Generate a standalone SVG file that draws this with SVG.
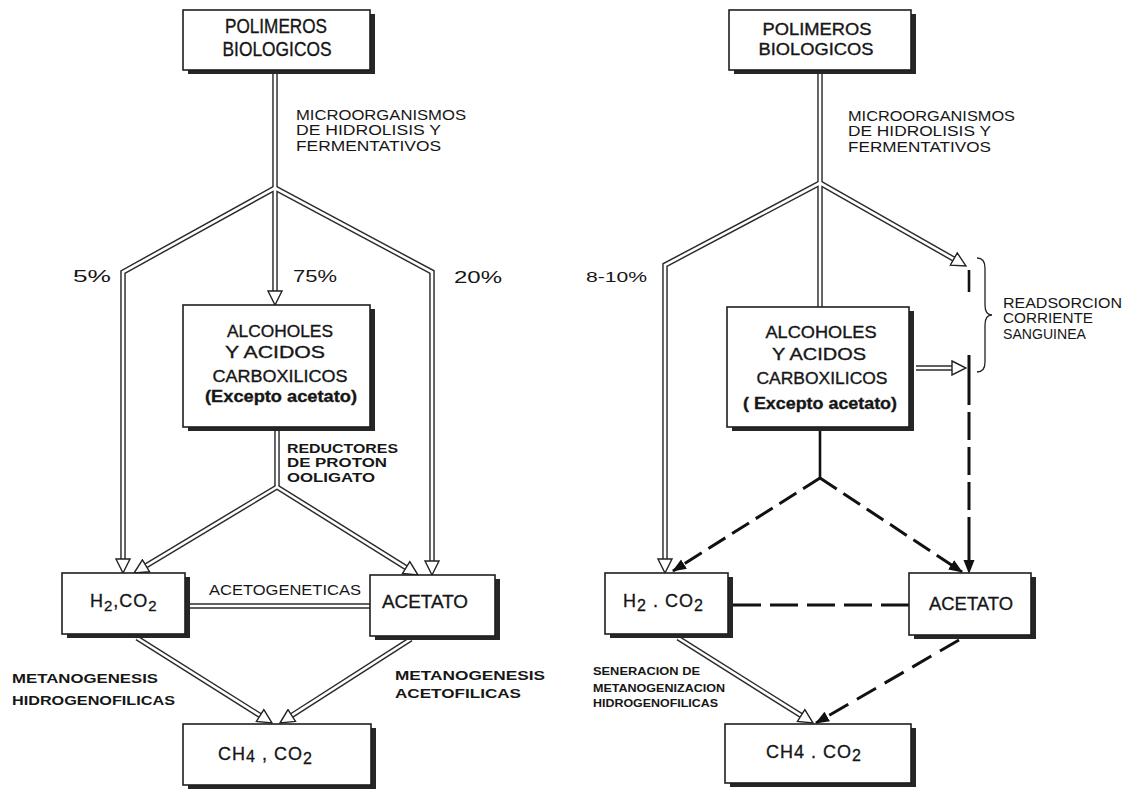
<svg xmlns="http://www.w3.org/2000/svg" width="1130" height="791" viewBox="0 0 1130 791">
<style>
.bg{fill:#fff}
.box{fill:#fff;stroke:#1e1e1e;stroke-width:1.6}
.sh{fill:#262626}
.t{font-family:"Liberation Sans",Arial,Helvetica,sans-serif;fill:#161616}
.tb{font-size:20px;stroke:#161616;stroke-width:0.35}
.tbr{font-size:17px;stroke:#161616;stroke-width:0.35}
.ta{font-size:17px;stroke:#161616;stroke-width:0.35}
.tx{font-size:18px;stroke:#161616;stroke-width:0.3}
.l{font-size:14px}
.lb{font-size:13px;font-weight:bold}
.ls{font-size:10px;font-weight:bold}
.p{font-size:16px}
.hb{fill:none;stroke:#2b2b2b;stroke-width:5.5}
.hw{fill:none;stroke:#fff;stroke-width:2.6}
.sol{fill:none;stroke:#111;stroke-width:2.6}
.dash{fill:none;stroke:#111;stroke-width:3;stroke-dasharray:20 8}
.brace{fill:none;stroke:#222;stroke-width:1.3}
</style>
<defs>
<marker id="ho" viewBox="0 0 16 16" refX="7" refY="8" markerWidth="16" markerHeight="16" markerUnits="userSpaceOnUse" orient="auto">
<path d="M1,1 L15,8 L1,15 Z" fill="#fff" stroke="#222" stroke-width="1.4"/>
</marker>
<marker id="fa" viewBox="0 0 14 12" refX="13" refY="6" markerWidth="14" markerHeight="12" markerUnits="userSpaceOnUse" orient="auto">
<path d="M0,0.5 L14,6 L0,11.5 Z" fill="#111"/>
</marker>
</defs>
<rect class="bg" x="0" y="0" width="1130" height="791"/>

<g id="connectors">
<path class="hb" d="M275,70 L275,188"/>
<path class="hb" d="M275,188 L123,272 L123,565"/>
<path class="hb" d="M275,188 L275,297"/>
<path class="hb" d="M275,188 L432,272 L432,567"/>
<path class="hb" d="M277,427 L277,487"/>
<path class="hb" d="M277,487 L140.9,568.9"/>
<path class="hb" d="M277,487 L411.2,570.8"/>
<path class="hb" d="M189,606 L370,606"/>
<path class="hb" d="M137,638 L265.2,718.7"/>
<path class="hb" d="M411,639 L286.7,718.7"/>
<path class="hb" d="M820,70 L820,183"/>
<path class="hb" d="M820,183 L665,265 L665,565"/>
<path class="hb" d="M820,183 L820,307"/>
<path class="hb" d="M820,183 L959,262"/>
<path class="hb" d="M916,368 L958,368"/>
<path class="hb" d="M678,638 L806.2,718.7"/>
<path class="hw" d="M275,70 L275,188"/>
<path class="hw" d="M275,188 L123,272 L123,565" marker-end="url(#ho)"/>
<path class="hw" d="M275,188 L275,297" marker-end="url(#ho)"/>
<path class="hw" d="M275,188 L432,272 L432,567" marker-end="url(#ho)"/>
<path class="hw" d="M277,427 L277,487"/>
<path class="hw" d="M277,487 L140.9,568.9" marker-end="url(#ho)"/>
<path class="hw" d="M277,487 L411.2,570.8" marker-end="url(#ho)"/>
<path class="hw" d="M189,606 L370,606"/>
<path class="hw" d="M137,638 L265.2,718.7" marker-end="url(#ho)"/>
<path class="hw" d="M411,639 L286.7,718.7" marker-end="url(#ho)"/>
<path class="hw" d="M820,70 L820,183"/>
<path class="hw" d="M820,183 L665,265 L665,565" marker-end="url(#ho)"/>
<path class="hw" d="M820,183 L820,307"/>
<path class="hw" d="M820,183 L959,262" marker-end="url(#ho)"/>
<path class="hw" d="M916,368 L958,368" marker-end="url(#ho)"/>
<path class="hw" d="M678,638 L806.2,718.7" marker-end="url(#ho)"/>
<path class="sol" d="M820,427 L820,478"/>
<path class="dash" d="M820,478 L673,571" marker-end="url(#fa)"/>
<path class="dash" d="M820,478 L962,572" marker-end="url(#fa)"/>
<path class="sol" d="M969,270 L969,292"/>
<path class="dash" d="M969,355 L969,573" style="stroke-dasharray:50 7 28 7 28 7 28 7" marker-end="url(#fa)"/>
<path class="dash" d="M733,605 L909,605" style="stroke-dasharray:28 9"/>
<path class="dash" d="M959,640 L816,723" style="stroke-dasharray:22 10" marker-end="url(#fa)"/>
<path class="brace" d="M977,258 Q985,258 985,268 L985,305 Q985,315 992,315 Q985,315 985,325 L985,362 Q985,372 977,372"/>
</g>

<g id="polimeros-l">
<rect class="sh" x="188" y="14" width="187" height="60"/>
<rect class="box" x="183" y="10" width="187" height="60"/>
<text class="t tb" x="276" y="33" text-anchor="middle" textLength="102" lengthAdjust="spacingAndGlyphs">POLIMEROS</text>
<text class="t tb" x="277" y="56" text-anchor="middle" textLength="109" lengthAdjust="spacingAndGlyphs">BIOLOGICOS</text>
</g>
<g id="alcoholes-l">
<rect class="sh" x="188" y="309" width="187" height="122"/>
<rect class="box" x="183" y="305" width="187" height="122"/>
<text class="t ta" x="280" y="337" text-anchor="middle" textLength="106" lengthAdjust="spacingAndGlyphs">ALCOHOLES</text>
<text class="t ta" x="275" y="358" text-anchor="middle" textLength="100" lengthAdjust="spacingAndGlyphs">Y ACIDOS</text>
<text class="t ta" x="280" y="382" text-anchor="middle" textLength="135" lengthAdjust="spacingAndGlyphs">CARBOXILICOS</text>
<text class="t ta" x="281" y="402" text-anchor="middle" font-weight="bold" textLength="152" lengthAdjust="spacingAndGlyphs">(Excepto acetato)</text>
</g>
<g id="h2-l">
<rect class="sh" x="67" y="577" width="123" height="61"/>
<rect class="box" x="62" y="573" width="123" height="61"/>
<text class="t tx" x="90" y="607" letter-spacing="1">H<tspan font-size="15" dy="4">2</tspan><tspan dy="-4">,CO</tspan><tspan font-size="15" dy="4">2</tspan></text>
</g>
<g id="acetato-l">
<rect class="sh" x="375" y="579" width="125" height="61"/>
<rect class="box" x="370" y="575" width="125" height="61"/>
<text class="t tx" x="425" y="608" text-anchor="middle" textLength="86" lengthAdjust="spacingAndGlyphs">ACETATO</text>
</g>
<g id="ch4-l">
<rect class="sh" x="188" y="728" width="188" height="61"/>
<rect class="box" x="183" y="724" width="188" height="61"/>
<text class="t tx" x="218" y="760" letter-spacing="1">CH<tspan font-size="16" dy="2">4</tspan><tspan dy="-2"> , CO</tspan><tspan font-size="16" dy="4">2</tspan></text>
</g>

<g id="polimeros-r">
<rect class="sh" x="734" y="14" width="182" height="60"/>
<rect class="box" x="729" y="10" width="182" height="60"/>
<text class="t tbr" x="817" y="35" text-anchor="middle" textLength="109" lengthAdjust="spacingAndGlyphs">POLIMEROS</text>
<text class="t tbr" x="816" y="55" text-anchor="middle" textLength="115" lengthAdjust="spacingAndGlyphs">BIOLOGICOS</text>
</g>
<g id="alcoholes-r">
<rect class="sh" x="732" y="311" width="182" height="120"/>
<rect class="box" x="727" y="307" width="182" height="120"/>
<text class="t ta" x="821" y="338" text-anchor="middle" textLength="111" lengthAdjust="spacingAndGlyphs">ALCOHOLES</text>
<text class="t ta" x="819" y="360" text-anchor="middle" textLength="94" lengthAdjust="spacingAndGlyphs">Y ACIDOS</text>
<text class="t ta" x="822" y="384" text-anchor="middle" textLength="131" lengthAdjust="spacingAndGlyphs">CARBOXILICOS</text>
<text class="t ta" x="820" y="409" text-anchor="middle" font-weight="bold" textLength="154" lengthAdjust="spacingAndGlyphs">( Excepto acetato)</text>
</g>
<g id="h2-r">
<rect class="sh" x="610" y="577" width="123" height="61"/>
<rect class="box" x="605" y="573" width="123" height="61"/>
<text class="t tx" x="623" y="607" letter-spacing="1">H<tspan font-size="16" dy="4">2</tspan><tspan dy="-4"> . CO</tspan><tspan font-size="16" dy="4">2</tspan></text>
</g>
<g id="acetato-r">
<rect class="sh" x="914" y="577" width="122" height="62"/>
<rect class="box" x="909" y="573" width="122" height="62"/>
<text class="t tx" x="971" y="610" text-anchor="middle" textLength="84" lengthAdjust="spacingAndGlyphs">ACETATO</text>
</g>
<g id="ch4-r">
<rect class="sh" x="730" y="728" width="186" height="59"/>
<rect class="box" x="725" y="724" width="186" height="59"/>
<text class="t tx" x="766" y="758" letter-spacing="1">CH4 . CO<tspan font-size="16" dy="3">2</tspan></text>
</g>

<g id="labels">
<text class="t l" x="296" y="120" textLength="170" lengthAdjust="spacingAndGlyphs">MICROORGANISMOS</text>
<text class="t l" x="296" y="135" textLength="145" lengthAdjust="spacingAndGlyphs">DE HIDROLISIS Y</text>
<text class="t l" x="296" y="151" textLength="145" lengthAdjust="spacingAndGlyphs">FERMENTATIVOS</text>
<text class="t p" x="73" y="282" textLength="38" lengthAdjust="spacingAndGlyphs">5%</text>
<text class="t p" x="293" y="282" textLength="44" lengthAdjust="spacingAndGlyphs">75%</text>
<text class="t p" x="454" y="283" textLength="48" lengthAdjust="spacingAndGlyphs">20%</text>
<text class="t lb" x="287" y="453" textLength="111" lengthAdjust="spacingAndGlyphs">REDUCTORES</text>
<text class="t lb" x="287" y="467" textLength="100" lengthAdjust="spacingAndGlyphs">DE PROTON</text>
<text class="t lb" x="287" y="482" textLength="88" lengthAdjust="spacingAndGlyphs">OOLIGATO</text>
<text class="t l" x="209" y="595" textLength="152" lengthAdjust="spacingAndGlyphs">ACETOGENETICAS</text>
<text class="t lb" x="12" y="683" textLength="146" lengthAdjust="spacingAndGlyphs">METANOGENESIS</text>
<text class="t lb" x="12" y="705" textLength="163" lengthAdjust="spacingAndGlyphs">HIDROGENOFILICAS</text>
<text class="t lb" x="395" y="680" textLength="150" lengthAdjust="spacingAndGlyphs">METANOGENESIS</text>
<text class="t lb" x="395" y="698" textLength="126" lengthAdjust="spacingAndGlyphs">ACETOFILICAS</text>

<text class="t l" x="848" y="121" textLength="167" lengthAdjust="spacingAndGlyphs">MICROORGANISMOS</text>
<text class="t l" x="848" y="136" textLength="143" lengthAdjust="spacingAndGlyphs">DE HIDROLISIS Y</text>
<text class="t l" x="848" y="152" textLength="143" lengthAdjust="spacingAndGlyphs">FERMENTATIVOS</text>
<text class="t l" x="586" y="282" textLength="61" lengthAdjust="spacingAndGlyphs">8-10%</text>
<text class="t l" x="1003" y="308" textLength="119" lengthAdjust="spacingAndGlyphs">READSORCION</text>
<text class="t l" x="1003" y="323" textLength="90" lengthAdjust="spacingAndGlyphs">CORRIENTE</text>
<text class="t l" x="1003" y="339" textLength="83" lengthAdjust="spacingAndGlyphs">SANGUINEA</text>
<text class="t ls" x="593" y="675" textLength="107" lengthAdjust="spacingAndGlyphs">SENERACION DE</text>
<text class="t ls" x="593" y="692" textLength="132" lengthAdjust="spacingAndGlyphs">METANOGENIZACION</text>
<text class="t ls" x="593" y="707" textLength="125" lengthAdjust="spacingAndGlyphs">HIDROGENOFILICAS</text>
</g>
</svg>
